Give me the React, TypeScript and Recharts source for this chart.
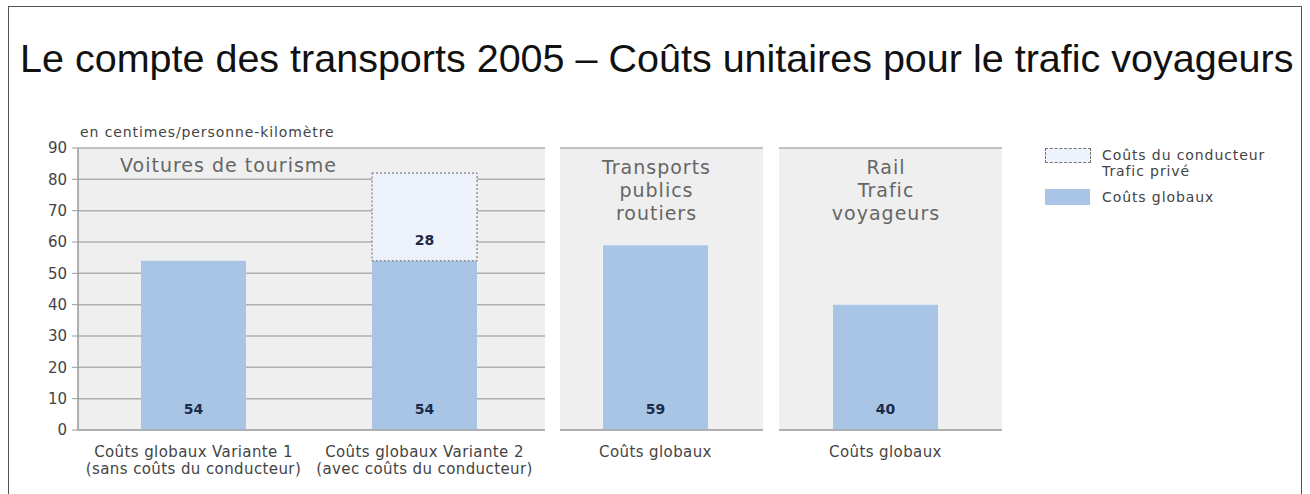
import { BarChart, Bar, XAxis, YAxis, CartesianGrid, LabelList } from "recharts";

const categories = [
  "Coûts globaux Variante 1\n(sans coûts du conducteur)",
  "Coûts globaux Variante 2\n(avec coûts du conducteur)",
  "Coûts globaux",
  "Coûts globaux",
];
const globalCosts = [54, 54, 59, 40];
const driverCosts = [null, 28, null, null];
const yTicks = [0, 10, 20, 30, 40, 50, 60, 70, 80, 90];
const panelTitles = ["Voitures de tourisme", "Transports\npublics\nroutiers", "Rail\nTrafic\nvoyageurs"];
const panelRanges = [[0, 2], [2, 3], [3, 4]];

const rows = categories.map((name, i) => ({
  name,
  global: globalCosts[i],
  driver: driverCosts[i],
}));

const FONT = "'DejaVu Sans', sans-serif";
const BLUE = "#a8c5e6";
const PANEL_BG = "#efefef";

// layout of the three panels (page coordinates)
const panels = [
  { left: 0, width: 560, margin: { top: 148, right: 15, bottom: 14, left: 28 }, padRight: 5, axis: true, border: "#d0d0d0" },
  { left: 545, width: 230, margin: { top: 148, right: 12, bottom: 14, left: 15 }, padRight: 12, axis: false, border: "#d0d0d0" },
  { left: 770, width: 240, margin: { top: 148, right: 8, bottom: 14, left: 9 }, padRight: 10, axis: false, border: "#a0a0a0" },
];

function CategoryTick(props: any) {
  const { x, y, payload } = props;
  const lines = String(payload.value).split("\n");
  return (
    <text
      x={x}
      y={y}
      textAnchor="middle"
      fill="#444"
      fontSize={15}
      letterSpacing={0.4}
      fontFamily={FONT}
    >
      {lines.map((l, i) => (
        <tspan key={i} x={x} dy={i === 0 ? 25 : 17}>
          {l}
        </tspan>
      ))}
    </text>
  );
}

function Panel({ index }: { index: number }) {
  const p = panels[index];
  const [a, b] = panelRanges[index];
  const data = rows.slice(a, b);
  return (
    <div style={{ position: "absolute", left: p.left, top: 0 }}>
      <BarChart width={p.width} height={494} data={data} margin={p.margin} barSize={105}>
        <CartesianGrid vertical={false} fill={PANEL_BG} stroke="#b0b0b0" strokeWidth={1.5} />
        <XAxis
          dataKey="name"
          interval={0}
          tick={<CategoryTick />}
          tickLine={false}
          tickSize={0}
          height={50}
          padding={{ left: 0, right: p.padRight }}
          axisLine={{ stroke: "#a8a8a8", strokeWidth: 1.5 }}
        />
        <YAxis
          domain={[0, 90]}
          ticks={yTicks}
          interval={0}
          width={p.axis ? 50 : 0}
          tick={p.axis ? { fill: "#444", fontSize: 15, fontFamily: FONT } : false}
          tickLine={p.axis ? { stroke: "#999" } : false}
          tickSize={6}
          tickMargin={5}
          axisLine={{ stroke: p.axis ? "#999" : p.border, strokeWidth: 1.5 }}
        />
        <YAxis
          yAxisId="r"
          orientation="right"
          domain={[0, 90]}
          width={0}
          tick={false}
          tickLine={false}
          axisLine={{ stroke: p.border, strokeWidth: 1.5 }}
        />
        <Bar dataKey="global" stackId="s" fill={BLUE} isAnimationActive={false}>
          <LabelList
            dataKey="global"
            position="insideBottom"
            offset={16}
            fill="#1c2a4a"
            fontWeight="bold"
            fontSize={14}
            fontFamily={FONT}
          />
        </Bar>
        <Bar
          dataKey="driver"
          stackId="s"
          fill="#eef2fa"
          stroke="#666"
          strokeDasharray="2 2"
          strokeWidth={1}
          isAnimationActive={false}
        >
          <LabelList
            dataKey="driver"
            position="insideBottom"
            offset={16}
            fill="#1c2a4a"
            fontWeight="bold"
            fontSize={14}
            fontFamily={FONT}
            formatter={(v: any) => (v == null ? "" : v)}
          />
        </Bar>
      </BarChart>
    </div>
  );
}

const titleStyle = {
  position: "absolute" as const,
  color: "#666",
  fontFamily: FONT,
  fontSize: 19,
  letterSpacing: 1,
  lineHeight: "23px",
  whiteSpace: "pre" as const,
  textAlign: "center" as const,
  background: PANEL_BG,
};

const legendText = {
  position: "absolute" as const,
  left: 1102,
  color: "#444",
  fontFamily: FONT,
  fontSize: 14,
  letterSpacing: 0.9,
  lineHeight: "16px",
  whiteSpace: "pre" as const,
};

export default function App() {
  return (
    <div
      style={{
        position: "absolute",
        left: 0,
        top: 0,
        width: 1310,
        height: 494,
        overflow: "hidden",
        background: "#fff",
      }}
    >
      <div
        style={{
          position: "absolute",
          left: 8,
          top: 6,
          width: 1292,
          height: 520,
          border: "1.5px solid #555",
        }}
      />
      <div
        style={{
          position: "absolute",
          left: 20,
          top: 39,
          fontFamily: "'Liberation Sans', Arial, sans-serif",
          fontSize: 39.5,
          lineHeight: "39px",
          color: "#111",
          whiteSpace: "nowrap",
        }}
      >
        Le compte des transports 2005 – Coûts unitaires pour le trafic voyageurs
      </div>
      <div
        style={{
          position: "absolute",
          left: 80,
          top: 124,
          fontFamily: FONT,
          fontSize: 14,
          letterSpacing: 0.9,
          lineHeight: "16px",
          color: "#444",
          whiteSpace: "nowrap",
        }}
      >
        en centimes/personne-kilomètre
      </div>

      <Panel index={0} />
      <Panel index={1} />
      <Panel index={2} />

      <div style={{ ...titleStyle, left: 120, top: 153.5, textAlign: "left" }}>{panelTitles[0]}</div>
      <div style={{ ...titleStyle, left: 596, width: 121, top: 155.5 }}>{panelTitles[1]}</div>
      <div style={{ ...titleStyle, left: 828, width: 116, top: 155.5 }}>{panelTitles[2]}</div>

      {/* legend */}
      <div
        style={{
          position: "absolute",
          left: 1045,
          top: 148,
          width: 44,
          height: 13,
          border: "1px dashed #777",
          background: "#eef2fa",
        }}
      />
      <div style={{ ...legendText, top: 147 }}>{"Coûts du conducteur\nTrafic privé"}</div>
      <div style={{ position: "absolute", left: 1045, top: 189, width: 45, height: 16, background: BLUE }} />
      <div style={{ ...legendText, top: 189 }}>Coûts globaux</div>
    </div>
  );
}
